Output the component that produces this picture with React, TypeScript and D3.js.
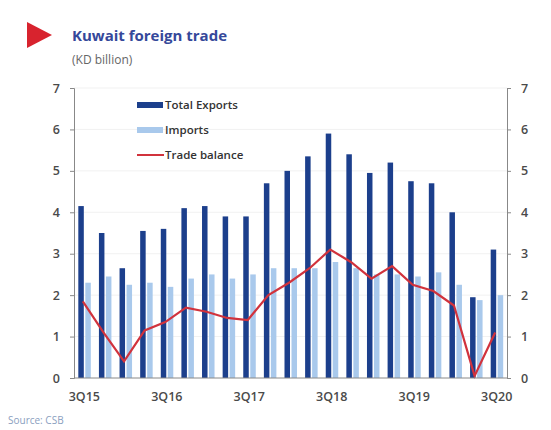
import { useEffect, useRef } from "react";
import * as d3 from "d3";

const quarters = [
  "3Q15", "4Q15", "1Q16", "2Q16", "3Q16", "4Q16", "1Q17", "2Q17", "3Q17", "4Q17",
  "1Q18", "2Q18", "3Q18", "4Q18", "1Q19", "2Q19", "3Q19", "4Q19", "1Q20", "2Q20", "3Q20",
];
const exportsKD = [4.15, 3.5, 2.65, 3.55, 3.6, 4.1, 4.15, 3.9, 3.9, 4.7, 5.0, 5.35, 5.9, 5.4, 4.95, 5.2, 4.75, 4.7, 4.0, 1.95, 3.1];
const importsKD = [2.3, 2.45, 2.25, 2.3, 2.2, 2.4, 2.5, 2.4, 2.5, 2.65, 2.65, 2.65, 2.8, 2.65, 2.5, 2.5, 2.45, 2.55, 2.25, 1.88, 2.0];
const balanceKD = [1.85, 1.1, 0.4, 1.15, 1.35, 1.7, 1.6, 1.45, 1.4, 2.0, 2.3, 2.65, 3.1, 2.8, 2.4, 2.7, 2.25, 2.1, 1.75, 0.05, 1.1];
const xLabels = ["3Q15", "3Q16", "3Q17", "3Q18", "3Q19", "3Q20"];
const yTicks = [0, 1, 2, 3, 4, 5, 6, 7];

const App = () => {
  const ref = useRef<SVGSVGElement>(null);

  useEffect(() => {
    const svg = d3.select(ref.current);
    svg.selectAll("*").remove();

    const left = 74, right = 507, top = 88, bottom = 378;
    const font = "'Open Sans', sans-serif";

    const x = d3.scaleBand().domain(quarters).range([left, right]);
    const y = d3.scaleLinear().domain([0, 7]).range([bottom, top]);

    // title block
    svg.append("path")
      .attr("d", "M27,22 L52,35 L27,48 Z")
      .attr("fill", "#d8232e");
    svg.append("text").attr("x", 72).attr("y", 41)
      .attr("font-family", font).attr("font-size", 15).attr("font-weight", 700)
      .attr("fill", "#35489a").text("Kuwait foreign trade");
    svg.append("text").attr("x", 72).attr("y", 64)
      .attr("font-family", font).attr("font-size", 12)
      .attr("fill", "#666").text("(KD billion)");

    // faint grid
    svg.append("g").selectAll("line").data(yTicks.filter(d => d > 0)).join("line")
      .attr("x1", left).attr("x2", right)
      .attr("y1", d => y(d)).attr("y2", d => y(d))
      .attr("stroke", "#f1f1f1");

    const bw = 5.5;
    svg.append("g").selectAll("rect").data(importsKD).join("rect")
      .attr("x", (d, i) => x(quarters[i])! + x.bandwidth() / 2 + 1)
      .attr("y", d => y(d))
      .attr("width", bw)
      .attr("height", d => bottom - y(d))
      .attr("fill", "#a9c9ec");
    svg.append("g").selectAll("rect").data(exportsKD).join("rect")
      .attr("x", (d, i) => x(quarters[i])! + x.bandwidth() / 2 - bw - 0.5)
      .attr("y", d => y(d))
      .attr("width", bw)
      .attr("height", d => bottom - y(d))
      .attr("fill", "#1c3f8c");

    const line = d3.line<number>()
      .x((d, i) => x(quarters[i])! + x.bandwidth() / 2 - 1.5)
      .y(d => y(d));
    svg.append("path").datum(balanceKD)
      .attr("d", line)
      .attr("fill", "none")
      .attr("stroke", "#d1323c")
      .attr("stroke-width", 2.2);

    // axes
    const axisColor = "#888";
    const fmt = d3.format("d");
    const leftAxis = svg.append("g").attr("transform", `translate(${left},0)`)
      .call(d3.axisLeft(y).tickValues(yTicks).tickFormat(fmt as any).tickSize(4).tickPadding(10));
    const rightAxis = svg.append("g").attr("transform", `translate(${right},0)`)
      .call(d3.axisRight(y).tickValues(yTicks).tickFormat(fmt as any).tickSize(4).tickPadding(10));
    const bottomAxis = svg.append("g").attr("transform", `translate(0,${bottom})`)
      .call(d3.axisBottom(x).tickValues(xLabels).tickSize(0).tickPadding(14));
    for (const g of [leftAxis, rightAxis, bottomAxis]) {
      g.select(".domain").attr("stroke", axisColor);
      g.selectAll(".tick line").attr("stroke", axisColor);
      g.selectAll("text").attr("font-family", font).attr("font-size", 12.5)
        .attr("font-weight", 600).attr("fill", "#4a4a4a");
    }
    bottomAxis.select(".domain").attr("d", `M${left},0H${right}`);

    // legend
    const legend = [
      { label: "Total Exports", color: "#1c3f8c", type: "bar" },
      { label: "Imports", color: "#a9c9ec", type: "bar" },
      { label: "Trade balance", color: "#d1323c", type: "line" },
    ];
    const lg = svg.append("g");
    legend.forEach((l, i) => {
      const ly = 105 + i * 25;
      if (l.type === "bar") {
        lg.append("rect").attr("x", 137).attr("y", ly - 3).attr("width", 26).attr("height", 6).attr("fill", l.color);
      } else {
        lg.append("line").attr("x1", 137).attr("x2", 164).attr("y1", ly).attr("y2", ly)
          .attr("stroke", l.color).attr("stroke-width", 2);
      }
      lg.append("text").attr("x", 165).attr("y", ly + 4)
        .attr("font-family", font).attr("font-size", 11.5).attr("font-weight", 600)
        .attr("fill", "#333").text(l.label);
    });

    svg.append("text").attr("x", 8).attr("y", 424)
      .attr("font-family", font).attr("font-size", 10)
      .attr("fill", "#8aa0c0").text("Source: CSB");
  }, []);

  return (
    <svg ref={ref} width={551} height={430}
      style={{ position: "absolute", left: 0, top: 0, background: "#fff" }} />
  );
};

export default App;
